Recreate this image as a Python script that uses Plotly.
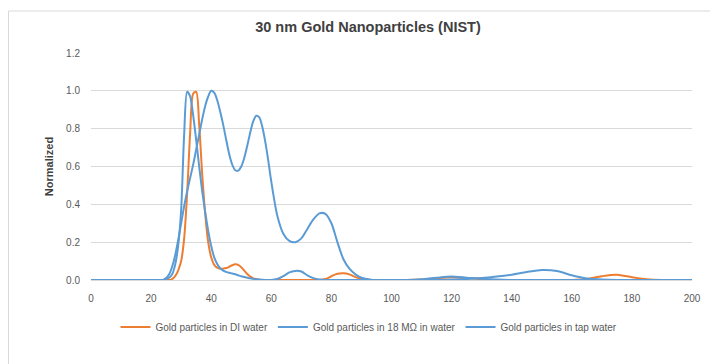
import plotly.graph_objects as go

# Size (nm) grid
size_nm = [0, 5, 10, 15, 20, 22, 24, 25, 26, 27, 28, 29, 30, 31, 32, 33, 34, 35, 36, 37,
           38, 39, 40, 41, 42, 43, 44, 45, 46, 47, 48, 49, 50, 51, 52, 53, 54, 55, 56, 57,
           58, 59, 60, 62, 64, 66, 68, 70, 72, 74, 76, 78, 80, 82, 84, 86, 88, 90, 92, 94,
           96, 98, 100, 105, 110, 115, 120, 125, 130, 135, 140, 145, 150, 155,
           160, 165, 170, 175, 180, 185, 190, 195, 200]

di_water = [0, 0, 0, 0, 0, 0, 0, 0, 0, 0.005, 0.02, 0.05, 0.1, 0.22, 0.46, 0.78, 0.985, 0.995, 0.82, 0.56,
            0.35, 0.2, 0.12, 0.08, 0.065, 0.06, 0.06, 0.063, 0.07, 0.078, 0.083, 0.08, 0.068, 0.05, 0.032, 0.018,
            0.009, 0.004, 0.001, 0,
            0, 0, 0, 0, 0, 0, 0, 0, 0, 0, 0, 0.005, 0.02, 0.033, 0.036, 0.03, 0.015, 0.005, 0, 0,
            0, 0, 0, 0, 0.003, 0.01, 0.015, 0.01, 0.004, 0, 0, 0, 0, 0,
            0, 0.005, 0.02, 0.028, 0.015, 0.004, 0, 0, 0]

mohm_water = [0, 0, 0, 0, 0, 0, 0, 0.005, 0.012, 0.03, 0.08, 0.18, 0.37, 0.77, 0.995, 0.97, 0.87, 0.74, 0.6, 0.47,
              0.36, 0.26, 0.18, 0.12, 0.085, 0.062, 0.05, 0.043, 0.038, 0.034, 0.03, 0.025, 0.02, 0.016, 0.012, 0.009,
              0.006, 0.004, 0.002, 0.001,
              0, 0, 0, 0.005, 0.02, 0.04, 0.048, 0.045, 0.025, 0.01, 0.003, 0, 0, 0, 0, 0, 0, 0, 0, 0,
              0, 0, 0, 0, 0.004, 0.012, 0.018, 0.012, 0.006, 0.002, 0, 0, 0, 0,
              0, 0, 0, 0, 0, 0, 0, 0, 0]

tap_water = [0, 0, 0, 0, 0, 0, 0, 0.01, 0.03, 0.07, 0.13, 0.21, 0.3, 0.39, 0.47, 0.54, 0.61, 0.69, 0.77, 0.85,
             0.92, 0.97, 1.0, 0.99, 0.95, 0.89, 0.82, 0.74, 0.665, 0.61, 0.58, 0.578, 0.6, 0.645, 0.71, 0.78,
             0.84, 0.868, 0.86, 0.81,
             0.73, 0.63, 0.52, 0.34, 0.245, 0.207, 0.2, 0.22, 0.27, 0.32, 0.352, 0.35, 0.3, 0.2, 0.11, 0.06, 0.03, 0.012, 0.005, 0,
             0, 0, 0, 0, 0, 0, 0.002, 0.005, 0.01, 0.018, 0.028, 0.042, 0.053, 0.048,
             0.025, 0.008, 0.002, 0, 0, 0, 0, 0, 0]

series_names = ["Gold particles in DI water", "Gold particles in 18 MΩ in water", "Gold particles in tap water"]
series_colors = ["#ED7D31", "#5B9BD5", "#5B9BD5"]
x_ticks = [0, 20, 40, 60, 80, 100, 120, 140, 160, 180, 200]
y_ticks = [0.0, 0.2, 0.4, 0.6, 0.8, 1.0, 1.2]
y_tick_labels = ["0.0", "0.2", "0.4", "0.6", "0.8", "1.0", "1.2"]

fig = go.Figure()
for name, ys, col in zip(series_names, [di_water, mohm_water, tap_water], series_colors):
    fig.add_trace(go.Scatter(x=size_nm, y=ys, name=name, mode="lines",
                             line=dict(color=col, width=2, shape="spline", smoothing=0.8),
                             hoverinfo="skip"))

# page body has an 8px margin, so the figure sits at (8, 8)
W, H = 710, 356
ML, MR, MT, MB = 83, 26, 45, 84
pw = W - ML - MR
ph = H - MT - MB

fig.update_layout(
    width=W, height=H,
    margin=dict(l=ML, r=MR, t=MT, b=MB, autoexpand=False),
    paper_bgcolor="white", plot_bgcolor="white",
    font=dict(family="Liberation Sans, Arial, sans-serif", size=10, color="#595959"),
    title=dict(text="<b>30 nm Gold Nanoparticles (NIST)</b>", x=(368 - 8) / W, xanchor="center",
               y=1 - (27 - 8) / H, yanchor="middle",
               font=dict(size=14.5, color="#404040", family="Liberation Sans, Arial, sans-serif")),
    showlegend=True,
    legend=dict(orientation="h", x=(369 - 91) / pw, xanchor="center", y=-(327 - 280) / ph, yanchor="middle",
                font=dict(size=10, color="#595959"), itemwidth=30, bgcolor="rgba(0,0,0,0)",
                tracegroupgap=0),
    xaxis=dict(range=[0, 200], tickvals=x_ticks, showgrid=False, zeroline=False,
               showline=True, linecolor="#D9D9D9", linewidth=1, ticks="", fixedrange=True,
               ticklabelstandoff=9),
    yaxis=dict(range=[0, 1.2], tickvals=y_ticks, ticktext=y_tick_labels, showgrid=True,
               gridcolor="#D9D9D9", gridwidth=1, zeroline=False, showline=False, ticks="",
               ticklabelstandoff=10,
               title=dict(text="<b>Normalized</b>", font=dict(size=11, color="#404040"), standoff=10),
               fixedrange=True),
    shapes=[
        dict(type="line", xref="paper", yref="paper", x0=(8.5 - 91) / pw, x1=(8.5 - 91) / pw,
             y0=-0.6, y1=(280 - 11) / ph, line=dict(color="#D9D9D9", width=1)),
        dict(type="line", xref="paper", yref="paper", x0=(8.5 - 91) / pw, x1=1.2,
             y0=(280 - 11) / ph, y1=(280 - 11) / ph, line=dict(color="#D9D9D9", width=1)),
    ],
)

fig.write_html("out.html")
